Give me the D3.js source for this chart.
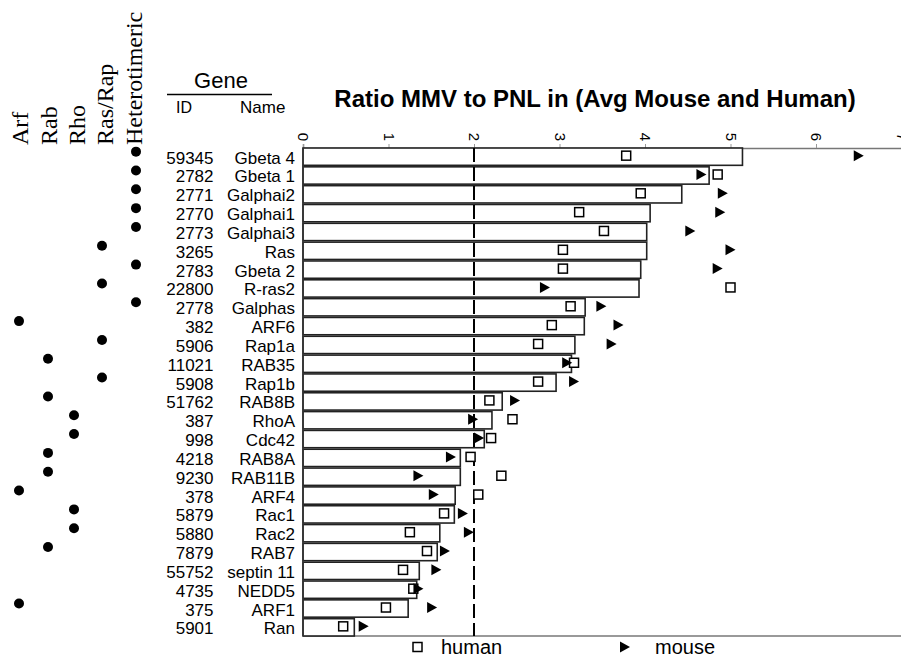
<!DOCTYPE html>
<html><head><meta charset="utf-8">
<script src="https://cdn.jsdelivr.net/npm/d3@7"></script>
<style>
html,body{margin:0;padding:0;background:#fff;}
svg{display:block;}
</style>
</head><body>
<script>
const geneIds = ["59345","2782","2771","2770","2773","3265","2783","22800","2778","382","5906","11021","5908","51762","387","998","4218","9230","378","5879","5880","7879","55752","4735","375","5901"];
const geneNames = ["Gbeta 4","Gbeta 1","Galphai2","Galphai1","Galphai3","Ras","Gbeta 2","R-ras2","Galphas","ARF6","Rap1a","RAB35","Rap1b","RAB8B","RhoA","Cdc42","RAB8A","RAB11B","ARF4","Rac1","Rac2","RAB7","septin 11","NEDD5","ARF1","Ran"];
const avgRatio = [5.14,4.75,4.43,4.06,4.02,4.02,3.95,3.93,3.30,3.29,3.18,3.14,2.96,2.33,2.21,2.12,1.84,1.84,1.78,1.77,1.60,1.57,1.36,1.33,1.23,0.60];
const humanRatio = [3.78,4.85,3.95,3.23,3.52,3.04,3.04,5.00,3.13,2.91,2.75,3.17,2.75,2.18,2.45,2.20,1.96,2.32,2.05,1.65,1.25,1.45,1.17,1.29,0.97,0.47];
const mouseRatio = [6.50,4.66,4.91,4.88,4.53,5.00,4.85,2.83,3.49,3.69,3.61,3.09,3.17,2.48,1.99,2.06,1.73,1.35,1.53,1.87,1.94,1.66,1.56,1.35,1.51,0.71];
const families = ["Heterotimeric","Heterotimeric","Heterotimeric","Heterotimeric","Heterotimeric","Ras/Rap","Heterotimeric","Ras/Rap","Heterotimeric","Arf","Ras/Rap","Rab","Ras/Rap","Rab","Rho","Rho","Rab","Rab","Arf","Rho","Rho","Rab","","","Arf",""];
const familyColumns = ["Arf","Rab","Rho","Ras/Rap","Heterotimeric"];
const xTicks = [0,1,2,3,4,5,6,7];
const threshold = 2;
const titleText = "Ratio MMV to PNL in (Avg Mouse and Human)";
const legendLabels = ["human","mouse"];

const W = 901, H = 661;
const svg = d3.select("body").append("svg").attr("width", W).attr("height", H);

const x = d3.scaleLinear().domain([0,7]).range([303, 901.5]);
const y = d3.scaleBand().domain(geneNames).range([148, 636]).paddingInner(0.08).paddingOuter(0);
const famDotX = d3.scaleOrdinal().domain(familyColumns).range([19, 48, 74, 102, 136]);
const famLabelX = d3.scalePoint().domain(familyColumns).range([28.3, 141.6]);

const sans = "'Liberation Sans', Arial, sans-serif";
const serif = "'Liberation Serif', 'Times New Roman', serif";

// Title
svg.append("text").attr("x", 595).attr("y", 107).attr("text-anchor","middle")
  .attr("font-family", sans).attr("font-weight","bold").attr("font-size", 24)
  .text(titleText);

// Family column headers (rotated)
familyColumns.forEach(f => {
  svg.append("text")
    .attr("transform", `translate(${famLabelX(f)},145) rotate(-90)`)
    .attr("font-family", serif).attr("font-size", 24)
    .text(f);
});

// Gene header
svg.append("text").attr("x", 221).attr("y", 88).attr("text-anchor","middle")
  .attr("font-family", sans).attr("font-size", 22).text("Gene");
svg.append("line").attr("x1",167).attr("x2",272).attr("y1",94.5).attr("y2",94.5)
  .attr("stroke","#000").attr("stroke-width",1.5);
svg.append("text").attr("x", 176).attr("y", 112.5)
  .attr("font-family", sans).attr("font-size", 16).text("ID");
svg.append("text").attr("x", 240).attr("y", 112.5)
  .attr("font-family", sans).attr("font-size", 17).text("Name");

// Top axis
const axisG = svg.append("g").attr("transform","translate(0,148)")
  .call(d3.axisTop(x).tickValues(xTicks).tickSize(4).tickFormat(d3.format("d")));
axisG.select(".domain").attr("stroke","#777").attr("stroke-width",1.5);
axisG.selectAll(".tick line").attr("stroke","#999");
axisG.selectAll(".tick text")
  .attr("font-family", sans).attr("font-size", 15).attr("fill","#000")
  .attr("text-anchor","middle").attr("dy", null)
  .attr("transform","translate(0,-11) rotate(90)")
  .attr("y", 0).attr("dominant-baseline","central");

// Bottom line
svg.append("line").attr("x1", x(0)).attr("x2", x(7)).attr("y1", 636).attr("y2", 636)
  .attr("stroke","#777").attr("stroke-width",1.5);

// Bars
svg.append("g").selectAll("rect").data(geneNames).join("rect")
  .attr("x", x(0))
  .attr("y", d => y(d))
  .attr("width", (d,i) => x(avgRatio[i]) - x(0))
  .attr("height", y.bandwidth())
  .attr("fill","#fff").attr("stroke","#222").attr("stroke-width",1.6);

// left line
svg.append("line").attr("x1", x(0)).attr("x2", x(0)).attr("y1", 148).attr("y2", 636)
  .attr("stroke","#333").attr("stroke-width",1.5);

// Threshold dashed line
svg.append("line").attr("x1", x(threshold)).attr("x2", x(threshold)).attr("y1", 148).attr("y2", 636)
  .attr("stroke","#000").attr("stroke-width",2).attr("stroke-dasharray","14,5");

const cy = d => y(d) + y.bandwidth()/2;

// Human squares
svg.append("g").selectAll("rect").data(geneNames).join("rect")
  .attr("x", (d,i) => x(humanRatio[i]) - 4.5)
  .attr("y", d => cy(d) - 5.5)
  .attr("width", 9).attr("height", 9)
  .attr("fill","#fff").attr("stroke","#000").attr("stroke-width",1.5);

// Mouse triangles
const tri = (cx, cyv) => `M${cx-5},${cyv-5.5}L${cx+5},${cyv}L${cx-5},${cyv+5.5}Z`;
svg.append("g").selectAll("path").data(geneNames).join("path")
  .attr("d", (d,i) => tri(x(mouseRatio[i]), cy(d) - 1))
  .attr("fill","#000");

// Row labels
svg.append("g").selectAll("text").data(geneIds).join("text")
  .attr("x", 213.5).attr("y", (d,i) => cy(geneNames[i]) + 7)
  .attr("text-anchor","end").attr("font-family", sans).attr("font-size", 17)
  .text(d => d);
svg.append("g").selectAll("text").data(geneNames).join("text")
  .attr("x", 295).attr("y", d => cy(d) + 7)
  .attr("text-anchor","end").attr("font-family", sans).attr("font-size", 17)
  .text(d => d);

// Family dots
svg.append("g").selectAll("circle").data(geneNames.filter((d,i) => families[i])).join("circle")
  .attr("cx", d => famDotX(families[geneNames.indexOf(d)]))
  .attr("cy", d => cy(d) - 5)
  .attr("r", 5).attr("fill","#000");

// Legend
svg.append("rect").attr("x", 413).attr("y", 642.5).attr("width", 9).attr("height", 9)
  .attr("fill","#fff").attr("stroke","#000").attr("stroke-width",1.5);
svg.append("text").attr("x", 441).attr("y", 654).attr("font-family", sans).attr("font-size", 20).text(legendLabels[0]);
svg.append("path").attr("d", tri(625, 647)).attr("fill","#000");
svg.append("text").attr("x", 655).attr("y", 654).attr("font-family", sans).attr("font-size", 20).text(legendLabels[1]);
</script>
</body></html>
